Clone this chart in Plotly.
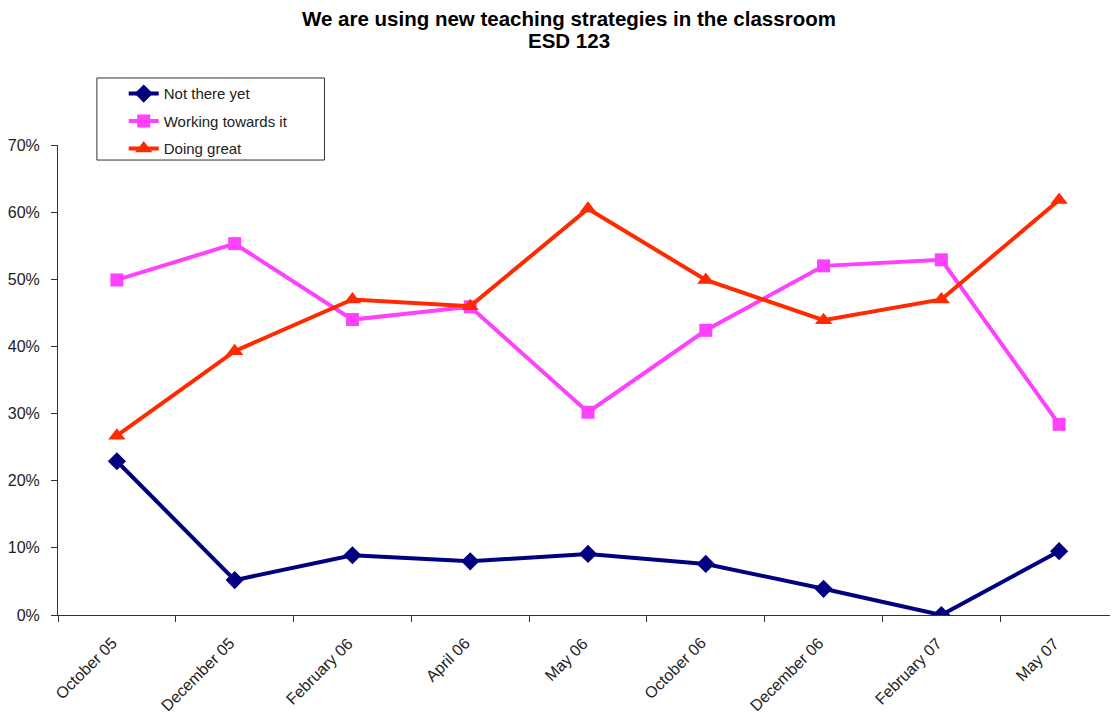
import plotly.graph_objects as go

categories = ["October 05", "December 05", "February 06", "April 06", "May 06",
              "October 06", "December 06", "February 07", "May 07"]
not_there_yet = [0.229, 0.052, 0.089, 0.080, 0.091, 0.076, 0.039, 0.000, 0.095]
working_towards = [0.499, 0.553, 0.440, 0.459, 0.302, 0.424, 0.520, 0.529, 0.284]
doing_great = [0.267, 0.393, 0.470, 0.460, 0.605, 0.499, 0.439, 0.470, 0.618]
y_ticks = [0, 0.1, 0.2, 0.3, 0.4, 0.5, 0.6, 0.7]
title_lines = ["We are using new teaching strategies in the classroom", "ESD 123"]

fig = go.Figure()
fig.add_trace(go.Scatter(x=categories, y=not_there_yet, name="Not there yet", legendgroup="a",
                         mode="lines+markers", line=dict(color="#000080", width=4),
                         marker=dict(symbol="diamond", size=14, color="#000080")))
fig.add_trace(go.Scatter(x=categories, y=working_towards, name="Working towards it", legendgroup="b",
                         mode="lines+markers", line=dict(color="#FF40FF", width=4),
                         marker=dict(symbol="square", size=13, color="#FF40FF")))
fig.add_trace(go.Scatter(x=categories, y=doing_great, name="Doing great", legendgroup="c",
                         mode="lines+markers", line=dict(color="#FF2A00", width=4),
                         marker=dict(symbol="triangle-up", size=15, color="#FF2A00")))

fig.update_layout(
    width=1110, height=709,
    margin=dict(l=48, r=0, t=137, b=102),
    paper_bgcolor="white", plot_bgcolor="white",
    font=dict(family="Liberation Sans, Arial, sans-serif", color="#222222"),
    showlegend=True,
    legend=dict(x=0.062, y=1.144, xanchor="left", yanchor="top",
                bgcolor="rgba(0,0,0,0)", borderwidth=0,
                font=dict(size=15, color="#222222"), tracegroupgap=5),
    xaxis=dict(type="category", range=[-0.5, 8.5], showline=True, linecolor="#333333",
               linewidth=1, ticks="outside", ticklen=6, tickcolor="#333333",
               tickmode="array", tickvals=[i - 0.5 for i in range(10)], ticktext=[""] * 10,
               showgrid=False, zeroline=False),
    yaxis=dict(range=[0, 0.7], tickvals=y_ticks, tickformat=".0%", showline=True,
               linecolor="#333333", linewidth=1, ticks="outside", ticklen=6,
               tickcolor="#333333", showgrid=False, zeroline=False,
               ticklabelstandoff=8,
               tickfont=dict(size=16, color="#222222")),
)

# legend frame
fig.add_shape(type="rect", xref="paper", yref="paper", x0=0.0367, x1=0.2514,
              y0=0.968, y1=1.1426, line=dict(color="#333333", width=1),
              fillcolor="white", layer="below")

# title lines
for txt, yy in zip(title_lines, [1.2702, 1.2213]):
    fig.add_annotation(x=0.482, y=yy, xref="paper", yref="paper", text="<b>" + txt + "</b>",
                       showarrow=False, xanchor="center", yanchor="middle",
                       font=dict(size=20.5, color="black"))

# category labels rotated, placed at category centers
for i, c in enumerate(categories):
    fig.add_annotation(x=i, y=0, xref="x", yref="paper", text=c, showarrow=False,
                       textangle=-45, xanchor="right", yanchor="top", xshift=6, yshift=-17,
                       font=dict(size=16, color="#222222"))

fig.write_html("out.html")
